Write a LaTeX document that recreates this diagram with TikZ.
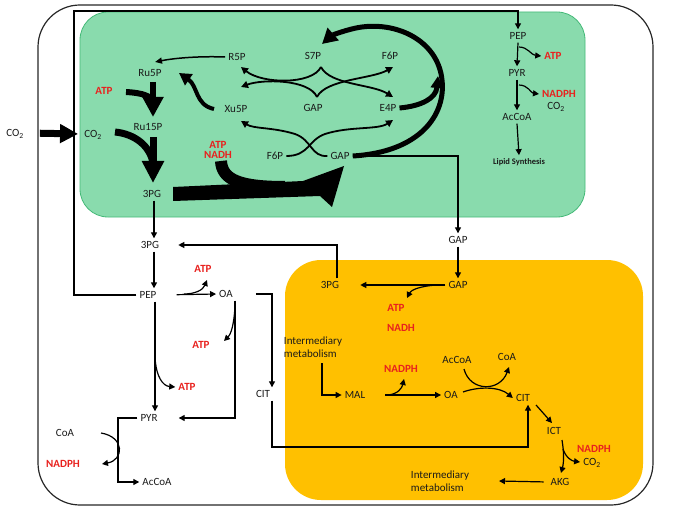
\documentclass[tikz,border=0pt]{standalone}
\usepackage{fontspec}
\setmainfont{Carlito}
\usetikzlibrary{arrows.meta}
\definecolor{gfill}{HTML}{89DBAD}
\definecolor{gdraw}{HTML}{45B978}
\definecolor{ofill}{HTML}{FFC000}
\definecolor{redt}{HTML}{E8211E}
\definecolor{txt}{HTML}{1A1A1A}
\tikzset{
 lbl/.style={text=txt, inner sep=3pt, text height=7pt, text depth=0pt, font=\fontsize{11}{13}\selectfont},
 rlbl/.style={text=redt, inner sep=3pt, text height=7pt, text depth=0pt, font=\fontsize{11}{13}\selectfont\bfseries},
 twoline/.style={text=txt, inner sep=2pt, align=left, font=\fontsize{11}{13}\selectfont},
 conn/.style={line width=1.2pt, -{Triangle[length=6pt,width=6pt]}},
 plainline/.style={line width=1.2pt},
 crossarr/.style={line width=1.8pt, -{Triangle[length=7pt,width=7pt]}},
}
\begin{document}
\begin{tikzpicture}[x=1pt,y=-1pt]
\useasboundingbox (0,0) rectangle (685,513);
% compartments
\draw[line width=1.2pt, black!85, rounded corners=42pt] (38,5) rectangle (653,505);
\draw[gdraw, fill=gfill, line width=0.8pt, rounded corners=28pt] (80,12) rectangle (585,217);
\fill[ofill, rounded corners=36pt] (285,260) rectangle (643,500);

% ---------- labels: green box ----------
\node[lbl] (co2out) at (15,133) {CO\textsubscript{2}};
\node[lbl] (co2in) at (93,134) {CO\textsubscript{2}};
\node[lbl] (r5p) at (237,57) {R5P};
\node[lbl] (ru5p) at (150,73) {Ru5P};
\node[rlbl] (atp1) at (104,91) {ATP};
\node[lbl] (ru15p) at (148,127) {Ru15P};
\node[lbl] (xu5p) at (236,109) {Xu5P};
\node[text=redt, align=center, inner sep=1pt, font=\fontsize{11}{10.5}\selectfont\bfseries] (atpnadh) at (218,150) {ATP\\NADH};
\node[lbl] (pg3in) at (152,194) {3PG};
\node[lbl] (s7p) at (313,56) {S7P};
\node[lbl] (f6pT) at (390,56) {F6P};
\node[lbl] (gapM) at (313,108) {GAP};
\node[lbl] (e4p) at (388,108) {E4P};
\node[lbl] (f6pB) at (275,156) {F6P};
\node[lbl] (gapB) at (340,156) {GAP};
\node[lbl] (pepT) at (518,36) {PEP};
\node[rlbl] (atpT) at (553,56) {ATP};
\node[lbl] (pyrT) at (517,73) {PYR};
\node[rlbl] (nadphT) at (559,94) {NADPH};
\node[lbl] (co2T) at (556,106) {CO\textsubscript{2}};
\node[lbl] (accoaT) at (517,117) {AcCoA};
\node[text=txt, inner sep=3pt, font=\fontsize{8.5}{10}\selectfont\bfseries] (lipid) at (519,162) {Lipid Synthesis};

% ---------- labels: cytosol ----------
\node[lbl] (pg3) at (150,245) {3PG};
\node[lbl] (pep) at (148,295) {PEP};
\node[rlbl] (atp2) at (203,269) {ATP};
\node[lbl] (oa1) at (226,294) {OA};
\node[rlbl] (atp3) at (201,345) {ATP};
\node[rlbl] (atp4) at (187,387) {ATP};
\node[lbl] (pyr) at (149,418) {PYR};
\node[lbl] (coa1) at (65,433) {CoA};
\node[rlbl] (nadph1) at (63,464) {NADPH};
\node[lbl] (accoa1) at (157,482) {AcCoA};
\node[lbl] (cit1) at (263,394) {CIT};
\node[lbl] (gap2) at (458,240) {GAP};

% ---------- labels: orange box ----------
\node[lbl] (gap3) at (458,285) {GAP};
\node[lbl] (pg3o) at (330,285) {3PG};
\node[rlbl] (atp5) at (396,308) {ATP};
\node[rlbl] (nadh5) at (401,328) {NADH};
\node[twoline] (im1) at (313,347) {Intermediary\\metabolism};
\node[rlbl] (nadph2) at (401,369) {NADPH};
\node[lbl] (accoa2) at (457,360) {AcCoA};
\node[lbl] (coa2) at (507,357) {CoA};
\node[lbl] (mal) at (355,395) {MAL};
\node[lbl] (oa2) at (451,395) {OA};
\node[lbl] (cit2) at (523,398) {CIT};
\node[lbl] (ict) at (554,431) {ICT};
\node[rlbl] (nadph3) at (594,449) {NADPH};
\node[lbl] (co2b) at (592,462) {CO\textsubscript{2}};
\node[lbl] (akg) at (560,482) {AKG};
\node[twoline] (im2) at (440,481) {Intermediary\\metabolism};

% ---------- heavy arrows (green box) ----------
\draw[line width=7pt, -{Triangle[length=18pt,width=18pt]}, shorten <=13pt, shorten >=3pt] (co2out.east) -- (co2in.west);
\draw[line width=6pt] (126,92) .. controls (143,93) and (152,96) .. (153,103);
\draw[line width=6pt, -{Triangle[length=20pt,width=20pt]}] (153,82) -- (153,117);
\draw[line width=7pt] (115,132) .. controls (135,134) and (150,146) .. (153,163);
\draw[line width=7pt, -{Triangle[length=22pt,width=21pt]}] (153,137) -- (153,183);
% 3PG -> GAP
\fill (173,187) -- (303,181) -- (344,166) -- (332,207) -- (320,196) -- (173,201) -- cycle;
\draw[line width=12pt] (221,161) .. controls (222,180) and (240,187) .. (285,187);
% Xu5P -> Ru5P
\draw[line width=4pt, -{Triangle[length=12pt,width=13pt]}] (214,109) .. controls (195,105) and (198,86) .. (179,73);
% R5P -> Ru5P
\draw[line width=1.5pt, -{Triangle[length=7pt,width=6pt]}] (r5p.west) .. controls (200,56) and (175,58) .. (155,62);
% big loop GAP -> S7P
\draw[line width=5pt, -{Triangle[length=15pt,width=16pt]}] (gapB.east) .. controls (420,152) and (446,115) .. (442,80) .. controls (438,40) and (395,20) .. (356,28) .. controls (342,31) and (331,36) .. (322,44);
% E4P -> loop
\draw[line width=5pt, -{Triangle[length=12pt,width=12pt]}] (e4p.east) .. controls (422,106) and (436,98) .. (438,76);

% ---------- pentose phosphate crossings ----------
\draw[crossarr] (321,67) .. controls (312,85) and (262,84) .. (241,67);
\draw[crossarr] (317,97) .. controls (309,79) and (262,79) .. (241,87);
\draw[crossarr] (321,67) .. controls (330,85) and (372,84) .. (393,97);
\draw[crossarr] (317,97) .. controls (326,79) and (372,79) .. (393,67);
\draw[crossarr] (f6pB.east) .. controls (309,156) and (308,140) .. (325,134) .. controls (350,126) and (378,130) .. (393,120);
\draw[crossarr] (gapB.west) .. controls (311,157) and (312,140) .. (295,134) .. controls (272,127) and (254,129) .. (241,121);

% ---------- thin connectors ----------
\draw[conn] (pep.west) -| (74,11) -| (pepT.north);
\draw[conn] (pepT.south) -- (pyrT.north);
\draw[conn] (519,47) .. controls (528,47) and (531,55) .. (atpT.west);
\draw[conn] (pyrT.south) -- (accoaT.north);
\draw[conn] (519,85) .. controls (528,85) and (531,93) .. (nadphT.west);
\draw[conn] (accoaT.south) -- (lipid.north);

\draw[conn] ([xshift=2pt]pg3in.south) -- ([xshift=4pt]pg3.north);
\draw[conn, line width=1.6pt] ([xshift=4pt]pg3.south) -- ([xshift=6pt]pep.north);
\draw[conn] ([xshift=7pt]pep.south) -- ([xshift=6pt]pyr.north);
\draw[conn] (155,357) .. controls (156,377) and (163,386) .. (atp4.west);
\draw[conn, shorten <=17pt] (pep.east) -- (oa1.west);
\draw[conn] (184,294) .. controls (195,294) and (203,290) .. (207,280);
\draw[conn, shorten <=20pt] (oa1.east) -| ([xshift=9pt]cit1.north);
\draw[conn, shorten >=18pt] ([xshift=9pt]oa1.south) |- (pyr.east);
\draw[conn] (235,306) .. controls (234,325) and (231,334) .. (224,341);
\draw[conn] (pyr.west) -| (118,450) |- (accoa1.west);
\draw[conn] (101,433) .. controls (125,437) and (124,460) .. (102,464);
\draw[conn] ([xshift=9pt]cit1.south) |- (528,447) -- ([xshift=5pt]cit2.south);

\draw[conn] (gapB.east) -| (gap2.north);
\draw[conn] (gap2.south) -- (gap3.north);
\draw[conn, shorten >=18pt] (gap3.west) -- (pg3o.east);
\draw[conn] (437,285) .. controls (420,286) and (411,290) .. (407,298);
\draw[conn, shorten >=16pt] ([xshift=7pt]pg3o.north) |- (pg3.east);

\draw[conn] (322,363) |- (mal.west);
\draw[conn, shorten <=17pt] (mal.east) -- (oa2.west);
\draw[conn] (388,395) .. controls (398,394) and (402,388) .. (404,379);
\draw[conn] (463,392) .. controls (480,386) and (500,387) .. (cit2.west);
\draw[conn] (464,369) .. controls (470,392) and (500,392) .. (509,367);
\draw[conn] (536,405) -- (552,423);
\draw[conn] (562,440) .. controls (564,452) and (564,462) .. (561,473);
\draw[conn] (563,449) .. controls (566,458) and (572,461) .. (co2b.west);
\draw[conn, shorten <=4pt] (akg.west) -- (499,481);
\end{tikzpicture}
\end{document}
